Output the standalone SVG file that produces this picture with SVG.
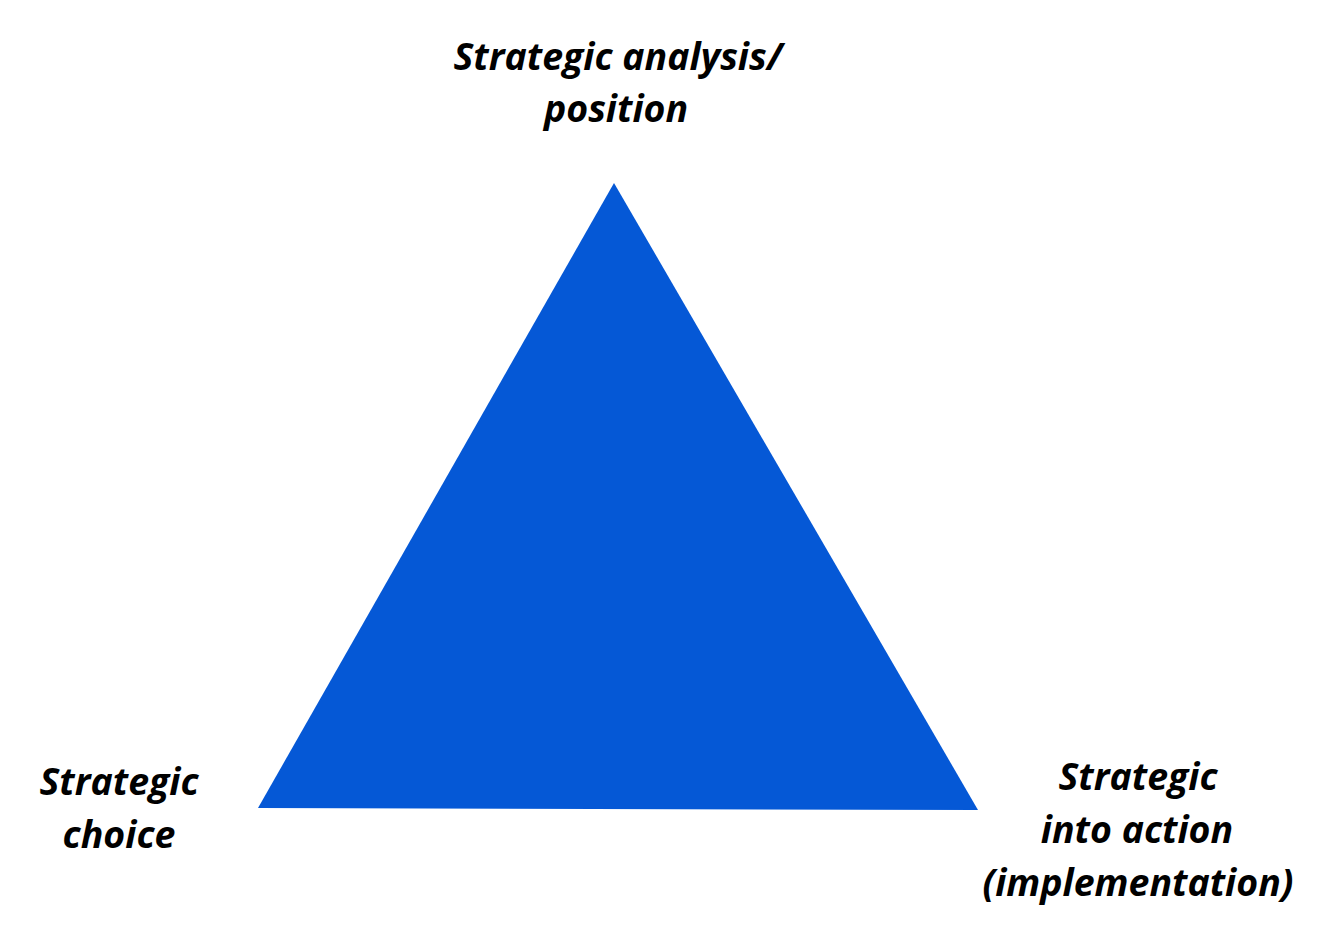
<svg xmlns="http://www.w3.org/2000/svg" width="1333" height="947" viewBox="0 0 1333 947">
<style>
.lbl{font-family:"Open Sans","Noto Sans","Liberation Sans",sans-serif;font-weight:bold;font-style:italic;font-size:37.5px;fill:#000;text-anchor:middle}
</style>
<rect width="1333" height="947" fill="#fff"/>
<g id="triangle">
<polygon points="614,183 258,808 978,810" fill="#0558D6"/>
</g>
<g id="label-top">
<text class="lbl" x="618" y="70">Strategic analysis/</text>
<text class="lbl" x="616" y="122">position</text>
</g>
<g id="label-left">
<text class="lbl" x="119" y="795">Strategic</text>
<text class="lbl" x="119" y="848">choice</text>
</g>
<g id="label-right">
<text class="lbl" x="1138" y="790">Strategic</text>
<text class="lbl" x="1137" y="843">into action</text>
<text class="lbl" x="1138" y="896">(implementation)</text>
</g>
</svg>
